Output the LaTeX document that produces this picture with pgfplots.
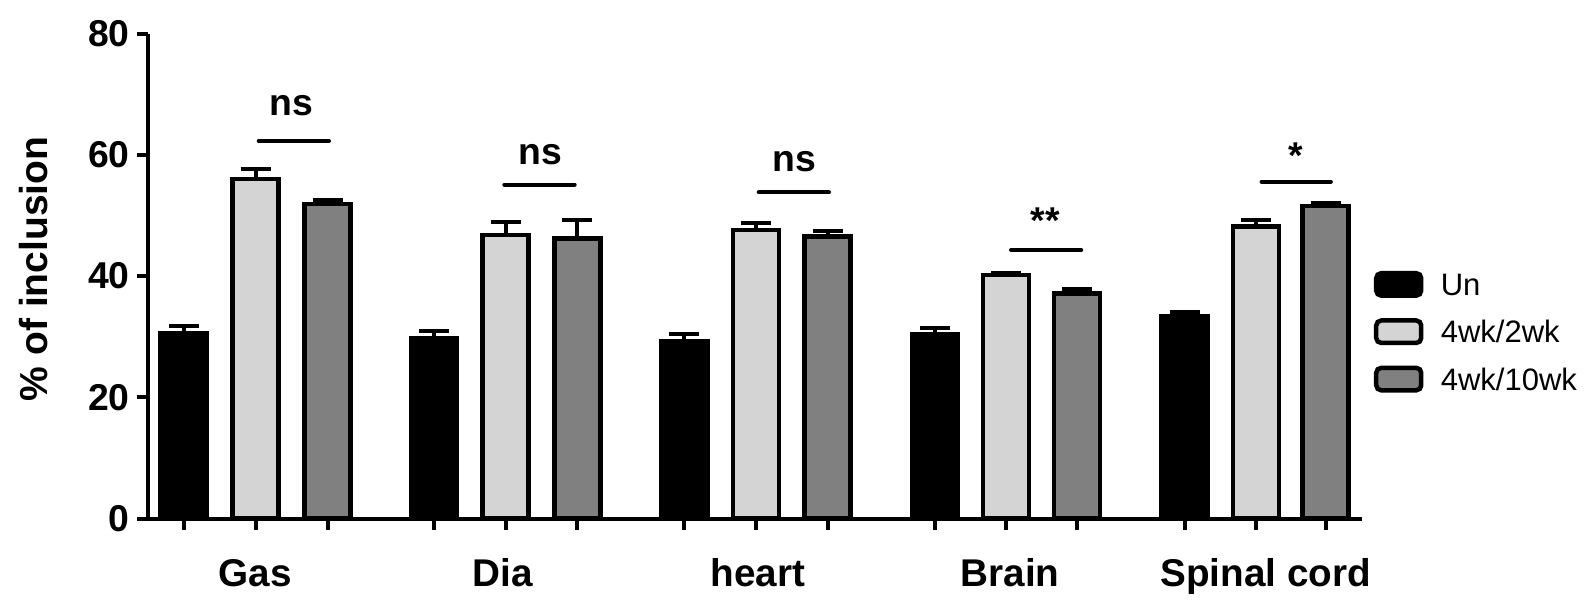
\documentclass[border=0pt]{standalone}
\usepackage{fontspec}
\setmainfont{Liberation Sans}
\usepackage{pgfplots}
\usepackage{pgfplotstable}
\pgfplotsset{compat=1.18}
\definecolor{lgray}{HTML}{D4D4D4}
\definecolor{dgray}{HTML}{808080}

\pgfplotstableread{
x y e
183.5 30.6 1.1
434 29.7 1.2
684.3 29.3 1.1
935 30.4 1.0
1184.6 33.4 0.7
}\un
\pgfplotstableread{
x y e
255.7 56.0 1.7
505.7 46.8 2.2
756 47.6 1.1
1006 40.2 0.3
1256 48.2 1.0
}\twowk
\pgfplotstableread{
x y e
327.7 51.9 0.7
577.3 46.2 3.0
827.7 46.5 0.9
1077 37.1 0.7
1325.7 51.6 0.5
}\tenwk

\pgfplotsset{
  mybar/.style={draw=black, line width=1.35pt, bar shift=0pt,
    legend image code/.code={\draw[##1, rounded corners=1.5pt] (0pt,-3.375pt) rectangle (13.5pt,3.375pt);}},
  sig/.style={forget plot, sharp plot, mark=none, draw=black, line width=1.2pt, line cap=round},
}

\begin{document}
\begin{tikzpicture}
\useasboundingbox (-44.4pt,-24.45pt) rectangle (434.1pt,155.55pt);
\begin{axis}[
  at={(0pt,0pt)}, anchor=south west,
  width=364.2pt, height=145.44pt, scale only axis,
  xmin=148, xmax=1362, ymin=0, ymax=80,
  axis x line*=bottom, axis y line*=left,
  axis line style={line width=1.2pt, black},
  ybar, bar width=46,
  ytick={0,20,40,60,80},
  xtick={183.5,255.7,327.7,434,505.7,577.3,684.3,756,827.7,935,1006,1077,1184.6,1256,1325.7},
  xticklabels={},
  tick align=outside, major tick length=3.3pt,
  tick style={line width=1.2pt, black},
  /pgf/number format/assume math mode=true,
  yticklabel style={font=\bfseries\fontsize{11.2}{12}\selectfont, inner xsep=2pt},
  clip=false,
  legend cell align=left,
  legend style={at={(axis cs:1373.3,40.97)}, anchor=north west, draw=none, fill=none,
    inner sep=0pt, row sep=6.1pt, column sep=5.2pt,
    font=\fontsize{9.3}{11}\selectfont,
    nodes={inner sep=0pt, text height=6.6pt, text depth=0pt}},
]
\addplot[mybar, fill=black,
  error bars/.cd, y dir=plus, y explicit, error mark=-,
  error mark options={rotate=90, line width=1.2pt, mark size=4.5pt, black},
  error bar style={line width=1.2pt, black}]
  table[x=x, y=y, y error=e] {\un};
\addplot[mybar, fill=lgray,
  error bars/.cd, y dir=plus, y explicit, error mark=-,
  error mark options={rotate=90, line width=1.2pt, mark size=4.5pt, black},
  error bar style={line width=1.2pt, black}]
  table[x=x, y=y, y error=e] {\twowk};
\addplot[mybar, fill=dgray,
  error bars/.cd, y dir=plus, y explicit, error mark=-,
  error mark options={rotate=90, line width=1.2pt, mark size=4.5pt, black},
  error bar style={line width=1.2pt, black}]
  table[x=x, y=y, y error=e] {\tenwk};
\legend{Un, 4wk/2wk, 4wk/10wk}

\addplot[sig] coordinates {(258.7,62.3) (329,62.3)};
\addplot[sig] coordinates {(504.3,55.1) (574.7,55.1)};
\addplot[sig] coordinates {(758.7,53.8) (829,53.8)};
\addplot[sig] coordinates {(1011,44.3) (1081.2,44.3)};
\addplot[sig] coordinates {(1261.6,55.6) (1330.9,55.6)};

\begin{scope}[every node/.style={font=\bfseries\fontsize{11.2}{12}\selectfont}]
\node at (axis cs:291.3,68.1) {ns};
\node at (axis cs:540,60.0) {ns};
\node at (axis cs:794,58.9) {ns};
\node at (axis cs:1045,49.2) {**};
\node at (axis cs:1295.4,59.9) {*};
\end{scope}

\begin{scope}[every node/.style={anchor=base, inner sep=0pt, font=\bfseries\fontsize{11.6}{12}\selectfont}]
\node[yshift=-20.4pt] at (axis cs:255,0) {Gas};
\node[yshift=-20.4pt] at (axis cs:503,0) {Dia};
\node[yshift=-20.4pt] at (axis cs:758,0) {heart};
\node[yshift=-20.4pt] at (axis cs:1010,0) {Brain};
\node[yshift=-20.4pt] at (axis cs:1265.8,0) {Spinal cord};
\end{scope}
\end{axis}
\node[rotate=90, font=\bfseries\fontsize{11.7}{13}\selectfont] at (-34.2pt,74.9pt) {\% of inclusion};
\end{tikzpicture}
\end{document}
